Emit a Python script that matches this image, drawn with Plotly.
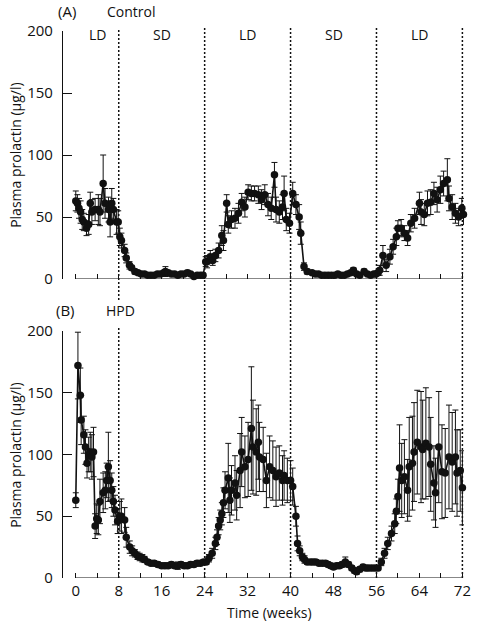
import plotly.graph_objects as go

# ---------------- Data ----------------
# Panel A: Control
ctrl_weeks = [0.0, 0.3, 0.6, 0.9, 1.2, 1.5, 2.0, 2.4, 2.7, 3.0, 3.6, 4.2, 4.5, 5.1, 5.45, 6.1, 6.4, 6.7, 7.0, 7.6, 7.9,
              8.2, 8.5, 9.1, 9.4, 10.0, 10.4, 11.0, 11.6, 12.2, 12.8, 13.4, 14.0, 14.6, 15.2, 15.8, 16.4, 16.7, 17.2,
              17.8, 18.4, 19.0, 19.6, 20.2, 20.8, 21.4, 22.0, 22.6, 23.2, 23.7,
              24.2, 24.45, 25.05, 25.5, 26.0, 26.6, 27.2, 27.5, 28.1, 28.4, 29.0, 29.65, 30.3, 30.9, 31.5, 32.1, 32.7,
              33.3, 34.0, 34.6, 35.2, 35.8, 36.4, 37.0, 37.3, 37.9, 38.5, 38.8, 39.2, 39.8,
              40.4, 41.0, 41.6, 41.9, 42.5, 43.1, 44.0, 44.6, 45.2, 45.8, 46.4, 47.0, 47.6, 48.2, 48.8, 49.4, 50.0,
              50.6, 51.2, 51.7, 52.3, 52.9, 53.7, 54.3, 54.9, 55.5, 55.9,
              56.3, 56.6, 57.2, 57.8, 58.5, 59.1, 59.7, 60.0, 60.6, 61.2, 61.8, 62.4, 63.1, 64.0, 64.3, 64.9, 65.5,
              66.1, 66.7, 67.3, 67.9, 68.5, 69.2, 69.5, 70.1, 70.7, 71.3, 71.9, 72.2]
ctrl_values = [63, 61, 57, 54, 48, 46, 41, 44, 61, 54, 56, 56, 54, 77, 61, 56, 46, 61, 56, 46, 46,
               34, 31, 23, 17, 11, 9, 6, 5, 4, 4, 3, 3, 3, 4, 4, 5, 6, 5,
               4, 4, 3, 4, 4, 5, 4, 2, 3, 3, 3,
               14, 14, 18, 15, 19, 23, 35, 31, 61, 44, 48, 49, 53, 62, 58, 70, 69,
               69, 68, 64, 68, 60, 57, 84, 56, 54, 58, 69, 48, 45,
               69, 60, 50, 37, 10, 6, 5, 4, 4, 3, 3, 3, 3, 3, 4, 3, 3,
               4, 5, 7, 4, 3, 6, 4, 3, 4, 4,
               5, 7, 19, 11, 18, 26, 34, 41, 41, 37, 33, 45, 49, 61, 54, 52, 61,
               62, 69, 64, 72, 77, 80, 65, 58, 53, 50, 57, 52]
ctrl_errors = [8, 7, 8, 9, 8, 7, 6, 8, 9, 10, 9, 12, 11, 23, 12, 10, 12, 12, 9, 10, 9,
               7, 6, 5, 4, 3, 2, 2, 1.5, 1.5, 1, 1, 1, 1, 1, 1.5, 2, 4, 2,
               1.5, 1, 1, 1.5, 1.5, 2, 1, 1, 1, 1, 1,
               4, 5, 5, 4, 5, 6, 8, 8, 7, 7, 7, 8, 8, 7, 8, 6, 6,
               6, 7, 8, 8, 9, 9, 10, 10, 9, 10, 14, 9, 8,
               9, 8, 10, 9, 3, 2, 1.5, 1, 1, 1, 1, 1, 1, 1, 1, 1, 1,
               1, 1.5, 2, 1, 1, 2, 1, 1, 1, 1,
               2, 4, 8, 5, 6, 6, 7, 6, 7, 6, 6, 7, 8, 9, 10, 9, 10,
               10, 9, 10, 11, 10, 17, 10, 10, 8, 7, 8, 8]

# Panel B: HPD
hpd_weeks = [0.0, 0.4, 0.85, 1.0, 1.5, 1.8, 2.1, 2.4, 2.7, 3.0, 3.3, 3.6, 3.9, 4.2, 4.5, 5.1, 5.5, 5.75, 6.07, 6.4,
             6.7, 7.0, 7.3, 7.8,
             8.2, 8.5, 9.1, 9.4, 10.05, 10.5, 11.0, 11.5, 11.9, 12.4, 12.8, 13.4, 14.0, 14.6, 15.3, 16.0, 16.6,
             17.2, 17.8, 18.4, 19.0, 19.6, 20.2, 20.8, 21.4, 22.0, 22.6, 23.2, 23.8,
             24.3, 24.8, 25.4, 26.0, 26.3, 26.6, 26.9, 27.2, 27.5, 27.8, 28.4, 28.7, 29.0, 29.65, 29.96, 30.6, 30.9,
             31.5, 32.1, 32.7, 33.0, 33.6, 34.0, 34.2, 34.9, 35.5, 36.1, 36.7, 37.3, 37.9, 38.5, 38.8, 39.4, 40.0,
             40.4, 41.0, 41.3, 41.7, 42.2, 42.6, 43.1, 43.7, 44.2, 44.7, 45.3, 45.9, 46.5, 47.0, 47.5, 48.0, 48.6,
             49.1, 49.6, 50.2, 50.8, 51.4, 51.9, 52.3, 52.9, 53.5, 54.0, 54.5, 55.1, 55.7,
             56.3, 56.9, 57.5, 58.1, 58.8, 59.4, 59.7, 60.0, 60.3, 60.7, 61.2, 61.8, 62.1, 62.7, 63.0, 63.6, 64.3,
             64.6, 65.2, 65.8, 66.1, 66.7, 67.0, 67.6, 68.2, 68.8, 69.5, 70.1, 70.7, 71.0, 71.6, 72.0]
hpd_values = [63, 172, 148, 128, 116, 106, 93, 100, 102, 98, 102, 42, 48, 47, 62, 69, 71, 79, 90, 79,
              71, 62, 55, 46,
              50, 50, 47, 33, 25, 22, 20, 18, 17, 16, 15, 13, 12, 12, 11, 10, 10,
              10, 11, 10, 10, 11, 10, 10, 11, 11, 12, 12, 13,
              13, 16, 20, 28, 33, 42, 47, 52, 61, 71, 81, 63, 71, 77, 67, 87, 102,
              90, 96, 121, 106, 102, 110, 98, 96, 79, 90, 87, 82, 85, 79, 83, 79, 79,
              74, 50, 28, 22, 17, 15, 13, 13, 13, 13, 12, 12, 12, 11, 10, 9, 10,
              10, 11, 13, 11, 8, 6, 5, 7, 9, 8, 8, 8, 8,
              8, 13, 20, 28, 36, 44, 54, 66, 89, 79, 82, 71, 90, 93, 102, 110, 106,
              104, 109, 106, 92, 77, 69, 106, 86, 85, 98, 94, 98, 85, 87, 73]
hpd_errors = [6, 27, 22, 20, 15, 14, 12, 14, 16, 18, 20, 10, 12, 12, 18, 16, 15, 14, 28, 16,
              14, 12, 12, 10,
              12, 14, 10, 8, 5, 4, 3, 3, 3, 3, 2.5, 2, 2, 2, 2, 2, 2,
              2, 2, 2, 3, 2, 2, 2, 2, 2, 2, 2, 2,
              2, 3, 4, 5, 6, 7, 8, 9, 12, 15, 28, 18, 20, 22, 20, 30, 28,
              25, 30, 50, 38, 35, 30, 28, 26, 22, 25, 24, 24, 22, 20, 20, 18, 16,
              15, 8, 6, 4, 3, 3, 2, 2, 2, 2, 2, 2, 2, 2, 2, 2, 2,
              2, 2, 4, 2, 2, 2, 2, 2, 2, 2, 2, 2, 2,
              2, 3, 4, 5, 6, 8, 10, 14, 35, 30, 30, 25, 40, 38, 40, 42, 45,
              40, 45, 40, 38, 30, 28, 45, 38, 36, 42, 40, 38, 35, 33, 30]

phase_boundaries = [8, 24, 40, 56, 72]
phase_labels = ["LD", "SD", "LD", "SD", "LD"]
phase_centers = [4, 16, 32, 48, 64]
x_tick_vals = [0, 8, 16, 24, 32, 40, 48, 56, 64, 72]
y_tick_vals = [0, 50, 100, 150, 200]

FONT = "Open Sans"
BLACK = "#111111"

fig = go.Figure()


def add_series(wk, val, err, xa, ya):
    fig.add_trace(go.Scatter(
        x=wk, y=val, xaxis=xa, yaxis=ya, mode="lines+markers",
        line=dict(color=BLACK, width=1.6),
        marker=dict(color=BLACK, size=7.5),
        error_y=dict(type="data", array=err, visible=True, color=BLACK, thickness=1, width=3),
        cliponaxis=False, showlegend=False, hoverinfo="x+y"))


add_series(ctrl_weeks, ctrl_values, ctrl_errors, "x", "y")
add_series(hpd_weeks, hpd_values, hpd_errors, "x2", "y2")

top_dom = [0.5466, 1.0]
bot_dom = [0.0, 0.4516]
xrange = [-2.38, 72.3]

xcommon = dict(range=xrange, showgrid=False, zeroline=False, showline=False,
               ticks="inside", ticklen=5, tickwidth=1, tickcolor=BLACK,
               tickvals=x_tick_vals,
               minor=dict(dtick=4, tick0=0, ticks="inside", ticklen=5, tickwidth=1, tickcolor=BLACK),
               tickfont=dict(family=FONT, size=15, color=BLACK))
ycommon = dict(range=[0, 200], showgrid=False, zeroline=False, showline=True, linecolor=BLACK, linewidth=1.2,
               ticks="inside", ticklen=9, tickwidth=1, tickcolor=BLACK, tickvals=y_tick_vals,
               tickfont=dict(family=FONT, size=15, color=BLACK), ticklabelstandoff=6)

fig.update_layout(
    width=480, height=626,
    margin=dict(l=63, r=9, t=31, b=48),
    paper_bgcolor="white", plot_bgcolor="white",
    font=dict(family=FONT, color=BLACK),
    xaxis=dict(domain=[0, 1], anchor="y", showticklabels=False, **xcommon),
    yaxis=dict(domain=top_dom, anchor="x", **ycommon),
    xaxis2=dict(domain=[0, 1], anchor="y2", showticklabels=True, ticklabelstandoff=2, **xcommon),
    yaxis2=dict(domain=bot_dom, anchor="x2", **ycommon),
)

# x-axis baselines (0 to 72 weeks)
for xr, yr in (("x", "y"), ("x2", "y2")):
    fig.add_shape(type="line", xref=xr, yref=yr, x0=x_tick_vals[0], x1=x_tick_vals[-1], y0=0, y1=0,
                  line=dict(color=BLACK, width=1.2))

# dashed photoperiod boundaries
for b in phase_boundaries:
    if b == phase_boundaries[0]:
        fig.add_shape(type="line", xref="x", yref="paper", x0=b, x1=b, y0=0.508, y1=1.0055,
                      line=dict(color=BLACK, width=1.5, dash="2px,2px"))
        fig.add_shape(type="line", xref="x", yref="paper", x0=b, x1=b, y0=0.0, y1=0.459,
                      line=dict(color=BLACK, width=1.5, dash="2px,2px"))
    else:
        fig.add_shape(type="line", xref="x", yref="paper", x0=b, x1=b, y0=0.0, y1=1.0055,
                      line=dict(color=BLACK, width=1.5, dash="2px,2px"))

ann = []
for c, lab in zip(phase_centers, phase_labels):
    ann.append(dict(x=c, y=0.9945, xref="x", yref="paper", text=lab, showarrow=False,
                    font=dict(family=FONT, size=14, color=BLACK), xanchor="center", yanchor="middle"))


# panel labels (pixel positions converted to paper coordinates)
def px(xp):
    return (xp - 63) / 408.0


def py(yp):
    return (578 - yp) / 547.0


ann += [
    dict(x=px(67), y=py(11), xref="paper", yref="paper", text="(A)", showarrow=False,
         font=dict(family=FONT, size=15, color=BLACK), xanchor="center", yanchor="middle"),
    dict(x=px(133), y=py(11), xref="paper", yref="paper", text="Control", showarrow=False,
         font=dict(family=FONT, size=14, color=BLACK), xanchor="center", yanchor="middle"),
    dict(x=px(66), y=py(310), xref="paper", yref="paper", text="(B)", showarrow=False,
         font=dict(family=FONT, size=15, color=BLACK), xanchor="center", yanchor="middle"),
    dict(x=px(121), y=py(310), xref="paper", yref="paper", text="HPD", showarrow=False,
         font=dict(family=FONT, size=14, color=BLACK), xanchor="center", yanchor="middle"),
    dict(x=px(14), y=py(155), xref="paper", yref="paper", text="Plasma prolactin (µg/l)", textangle=-90,
         showarrow=False, font=dict(family=FONT, size=14, color=BLACK), xanchor="center", yanchor="middle"),
    dict(x=px(14), y=py(455), xref="paper", yref="paper", text="Plasma prolactin (µg/l)", textangle=-90,
         showarrow=False, font=dict(family=FONT, size=14, color=BLACK), xanchor="center", yanchor="middle"),
    dict(x=36, y=py(613), xref="x2", yref="paper", text="Time (weeks)", showarrow=False,
         font=dict(family=FONT, size=14, color=BLACK), xanchor="center", yanchor="middle"),
]
fig.update_layout(annotations=ann)

fig.write_html("out.html", config={"displayModeBar": False},
               post_script="document.body.style.margin='0px';document.body.style.padding='0px';")
